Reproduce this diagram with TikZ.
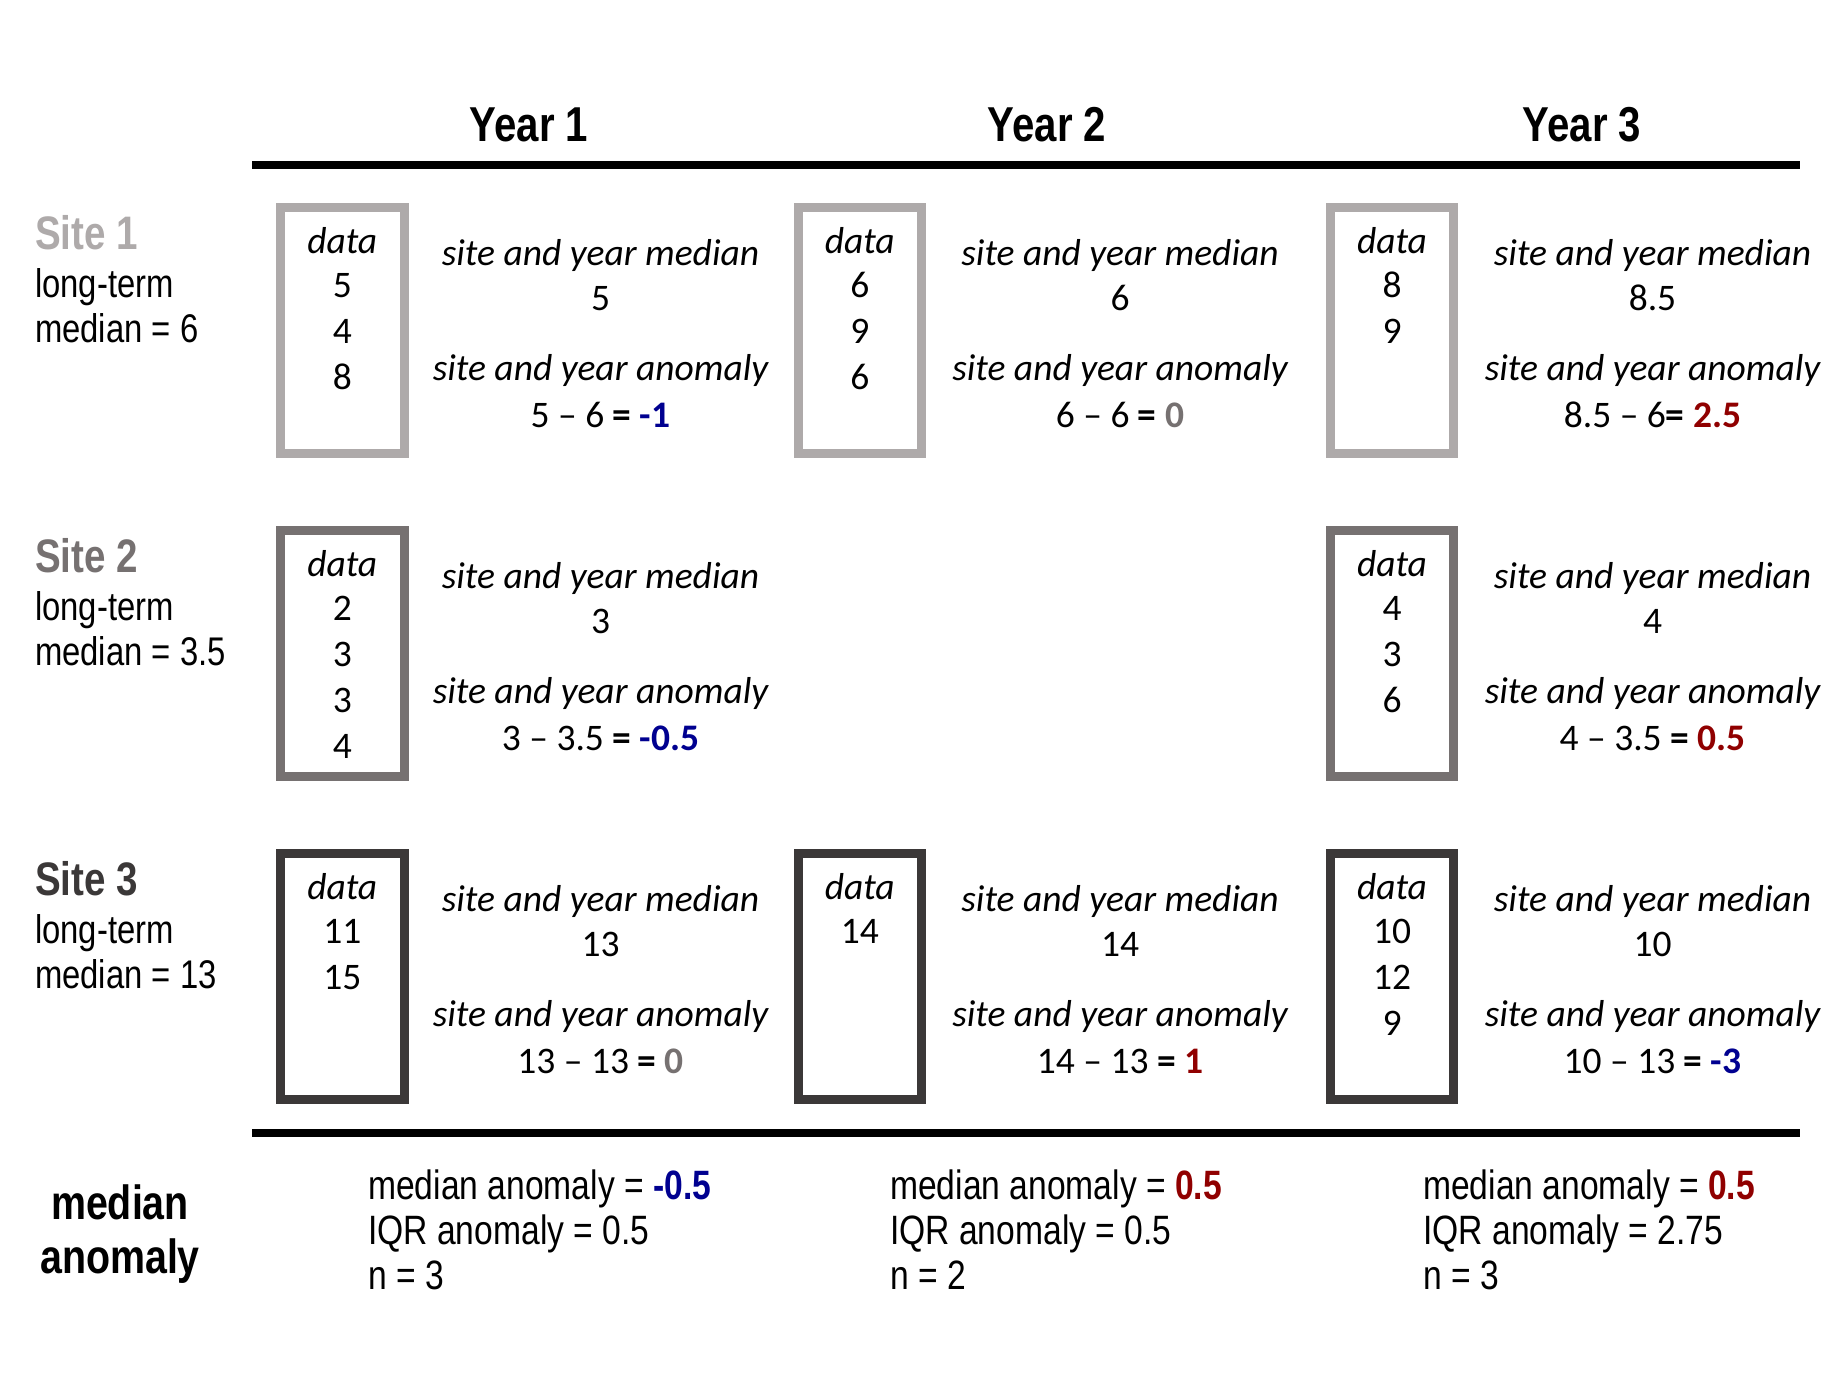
\documentclass[tikz,border=0pt]{standalone}
\usepackage{fontspec}
\newfontfamily\cond[FakeStretch=0.82]{Liberation Sans}
\newfontfamily\carl{Carlito}
\definecolor{gA}{HTML}{AEAAAA}
\definecolor{gB}{HTML}{767171}
\definecolor{gC}{HTML}{3B3838}
\definecolor{negblue}{HTML}{000090}
\definecolor{posred}{HTML}{900000}
\definecolor{zerogray}{HTML}{767171}
\newcommand{\mkcell}[8]{%
  \node[databox=#5] (#1box) at (#2,#4+127.5) {};
  \node[calit] (#1data) at (#2,#4+50) {data};
  \foreach \v [count=\i] in {#6} { \node[cal] (#1d\i) at (#2,#4+48+46*\i) {\v}; }
  \node[calit] (#1ml) at (#3,#4+62) {site and year median};
  \node[cal] (#1mv) at (#3,#4+107) {#7};
  \node[calit] (#1al) at (#3,#4+177) {site and year anomaly};
  \node[cal] (#1av) at (#3,#4+224) {#8};
}
\begin{document}
\begin{tikzpicture}[x=1pt,y=-1pt,
  yr/.style={font=\cond\bfseries\fontsize{49}{50}\selectfont, anchor=base, inner sep=0pt},
  sitehd/.style={font=\cond\bfseries\fontsize{47}{48}\selectfont, anchor=base west, inner sep=0pt},
  sitetx/.style={font=\cond\fontsize{40}{42}\selectfont, anchor=base west, inner sep=0pt},
  databox/.style={draw=#1, line width=9pt, minimum width=123.5pt, minimum height=246pt, inner sep=0pt},
  cal/.style={font=\carl\fontsize{37.5}{40}\selectfont, anchor=base, inner sep=0pt},
  calit/.style={font=\carl\itshape\fontsize{37.5}{40}\selectfont, anchor=base, inner sep=0pt},
  rule/.style={line width=8pt},
  summ/.style={font=\cond\fontsize{41}{42}\selectfont, anchor=base west, inner sep=0pt},
  malab/.style={font=\cond\bfseries\fontsize{48}{50}\selectfont, anchor=base, inner sep=0pt},
]
\fill[white] (0,0) rectangle (1843,1382);
\path[use as bounding box] (0,0) rectangle (1843,1382);

% headers
\node[yr] (y1) at (529,141.7) {Year 1};
\node[yr] (y2) at (1047,141.7) {Year 2};
\node[yr] (y3) at (1582,141.7) {Year 3};
\coordinate (tl) at (252,165); \coordinate (tr) at (1800,165);
\draw[rule] (tl) -- (tr);
\coordinate (bl) at (252,1133); \coordinate (br) at (1800,1133);
\draw[rule] (bl) -- (br);

% site labels
\node[sitehd, text=gA] (s1) at (35,249) {Site 1};
\node[sitetx] (s1a) at (35,297) {long-term};
\node[sitetx] (s1b) at (35,342) {median = 6};
\node[sitehd, text=gB] (s2) at (35,572) {Site 2};
\node[sitetx] (s2a) at (35,620) {long-term};
\node[sitetx] (s2b) at (35,665) {median = 3.5};
\node[sitehd, text=gC] (s3) at (35,895) {Site 3};
\node[sitetx] (s3a) at (35,943) {long-term};
\node[sitetx] (s3b) at (35,988) {median = 13};

% cells
\mkcell{ra}{342.3}{600.5}{203}{gA}{5,4,8}{5}{5 – 6 \textbf{= \textcolor{negblue}{-1}}}
\mkcell{rb}{859.8}{1120}{203}{gA}{6,9,6}{6}{6 – 6 \textbf{= \textcolor{zerogray}{0}}}
\mkcell{rc}{1392}{1652.5}{203}{gA}{8,9}{8.5}{8.5 – 6\textbf{= \textcolor{posred}{2.5}}}
\mkcell{sa}{342.3}{600.5}{526}{gB}{2,3,3,4}{3}{3 – 3.5 \textbf{= \textcolor{negblue}{-0.5}}}
\mkcell{sc}{1392}{1652.5}{526}{gB}{4,3,6}{4}{4 – 3.5 \textbf{= \textcolor{posred}{0.5}}}
\mkcell{ta}{342.3}{600.5}{849}{gC}{11,15}{13}{13 – 13 \textbf{= \textcolor{zerogray}{0}}}
\mkcell{tb}{859.8}{1120}{849}{gC}{14}{14}{14 – 13 \textbf{= \textcolor{posred}{1}}}
\mkcell{tc}{1392}{1652.5}{849}{gC}{10,12,9}{10}{10 – 13 \textbf{= \textcolor{negblue}{-3}}}

% summary
\node[malab] (ma1) at (120,1219) {median};
\node[malab] (ma2) at (120,1273) {anomaly};
\node[summ] (p1a) at (368,1199) {median anomaly = \textbf{\textcolor{negblue}{-0.5}}};
\node[summ] (p1b) at (368,1244) {IQR anomaly = 0.5};
\node[summ] (p1c) at (368,1289) {n = 3};
\node[summ] (p2a) at (890,1199) {median anomaly = \textbf{\textcolor{posred}{0.5}}};
\node[summ] (p2b) at (890,1244) {IQR anomaly = 0.5};
\node[summ] (p2c) at (890,1289) {n = 2};
\node[summ] (p3a) at (1423,1199) {median anomaly = \textbf{\textcolor{posred}{0.5}}};
\node[summ] (p3b) at (1423,1244) {IQR anomaly = 2.75};
\node[summ] (p3c) at (1423,1289) {n = 3};
\end{tikzpicture}
\end{document}
